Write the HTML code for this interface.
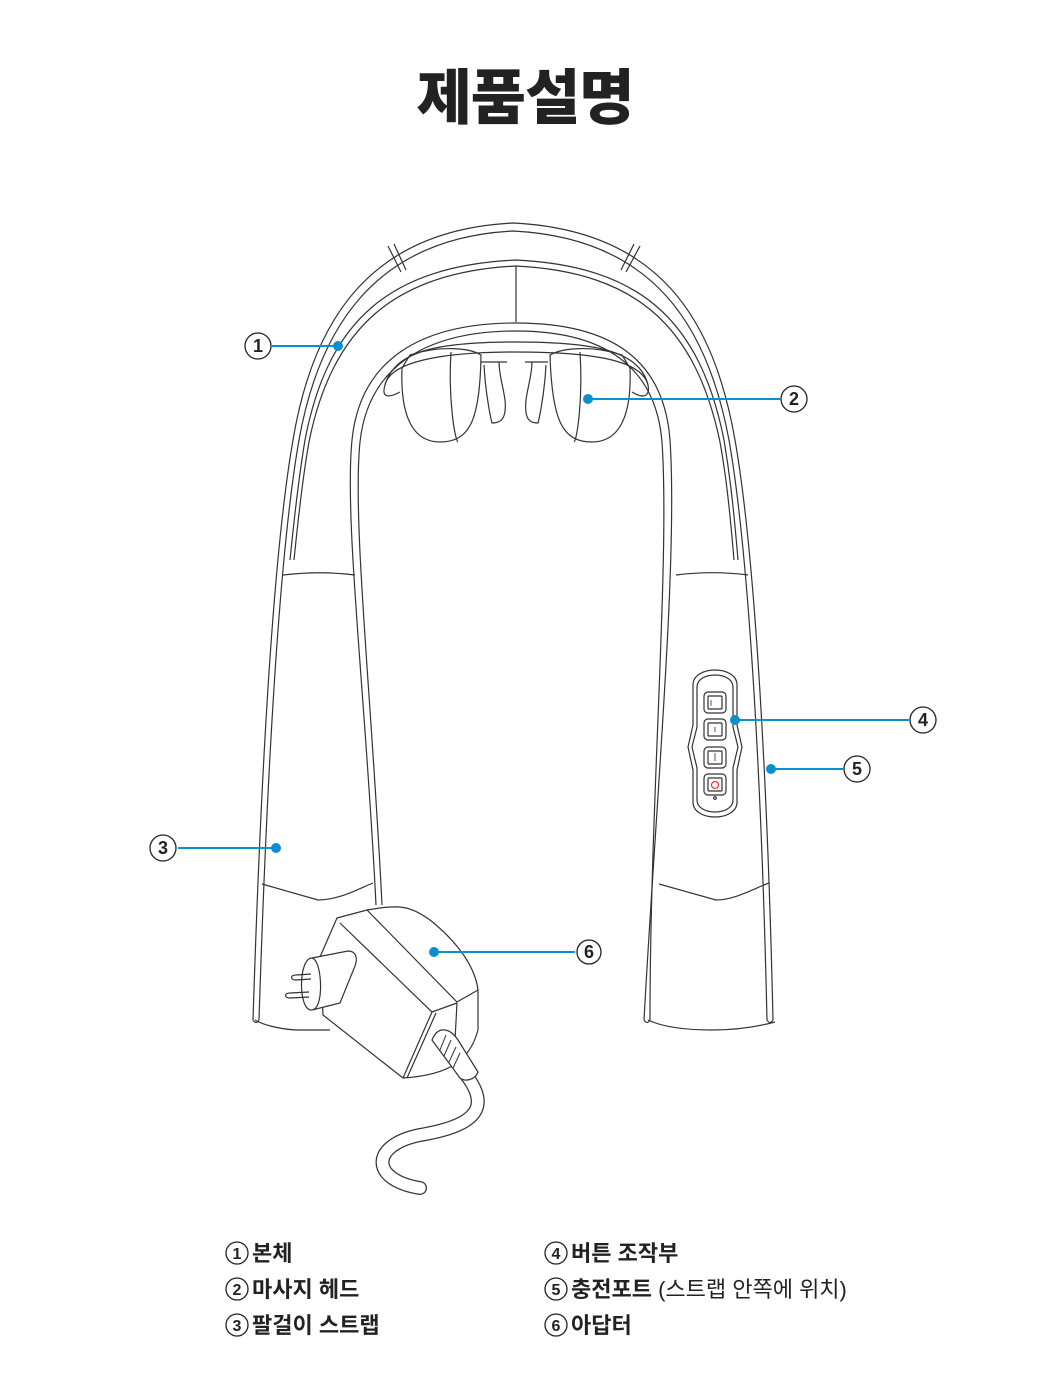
<!DOCTYPE html>
<html><head><meta charset="utf-8"><style>
html,body{margin:0;padding:0;background:#fff;}
svg{display:block;}
.t{font-family:"Liberation Sans","Noto Sans CJK KR",sans-serif;}
</style></head><body>
<svg width="1050" height="1384" viewBox="0 0 1050 1384" xmlns="http://www.w3.org/2000/svg">
<text x="525" y="119" text-anchor="middle" class="t" font-size="60" font-weight="900" fill="#222" letter-spacing="-1">제품설명</text>

<g fill="none" stroke="#333" stroke-width="1.2">
<path d="M253,1020 C260,800 272,560 293,440 C313,320 370,230 513,223 C660,230 714,320 735,440 C756,560 768,800 773,1020"/>
<path d="M259,1020 C266,800 278,560 299,440 C319,328 375,238 513,231 C655,238 708,328 729,440 C750,560 762,800 767,1020"/>
<path d="M290,560 C296,500 300,470 305,440 C328,320 390,266 516,260 C640,266 700,320 724,440 C729,470 733,500 738,560"/>
<path d="M294,560 C300,500 304,470 309,442 C332,328 394,272 516,266 C638,272 696,328 720,442 C725,470 729,500 734,560"/>
<path d="M388,246 L401,272 M394,244 L406,270"/>
<path d="M640,246 L626,272 M634,244 L621,270"/>
<path d="M516,266 L516,322"/>
<path d="M376,905 C366,700 344,520 352,440 C360,360 420,323 516,323 C612,323 664,360 670,440 C678,560 656,800 644,1020"/>
<path d="M382,905 C372,700 352,520 360,442 C368,368 424,331 516,331 C606,331 656,368 662,442 C670,560 650,800 650,1020"/>
<path d="M385,385 C395,350 440,342 516,342 C592,342 640,350 648,385"/>
<path d="M385,385 C390,362 440,352 516,352 C592,352 642,360 648,385"/>
<path d="M402,368 C400,420 415,442 440,442 C470,442 480,420 481,355 C470,348 440,345 410,355 Z"/>
<path d="M451,352 C448,400 455,440 458,442"/>
<path d="M630,368 C632,420 617,442 592,442 C562,442 552,420 550,355 C562,348 592,345 622,355 Z"/>
<path d="M580,352 C583,400 577,440 574,442"/>
<path d="M481,362 L507,362 M484,365 C486,400 492,423 492,423 C500,423 507,420 505,400 C503,385 499,375 499,362"/>
<path d="M548,362 L525,362 M546,365 C544,400 538,423 538,423 C530,423 524,420 526,400 C528,385 532,375 532,362"/>
<path d="M385,385 C382,395 385,400 400,392 M648,385 C650,395 645,400 632,392"/>
<path d="M283,575 C310,572 330,572 355,575"/>
<path d="M262,884 L318,900 C340,900 360,888 373,883"/>
<path d="M676,575 C700,572 725,572 748,575"/>
<path d="M659,884 L716,900 C735,900 755,888 769,883"/>
<path d="M648,1020 C665,1028 690,1030 712,1030 C740,1030 760,1026 775,1022"/>
<path d="M255,1020 C265,1026 285,1030 300,1030 L330,1030"/>
<path d="M253,1020 Q256,1025 259,1020 M773,1020 Q770,1025 767,1020 M644,1020 Q647,1025 650,1020"/>
<path d="M693,685 C693,665 737,665 737,685 L737,725 L742,747 L737,770 L737,802 C737,822 693,822 693,802 L693,770 L688,747 L693,725 Z"/>
<path d="M697,687 C697,671 733,671 733,687 L733,727 L738,747 L733,768 L733,800 C733,816 697,816 697,800 L697,768 L692,747 L697,727 Z"/>
<rect x="704" y="692" width="22" height="21" rx="4"/><rect x="708" y="696" width="14" height="13" rx="1"/>
<rect x="704" y="719" width="22" height="21" rx="4"/><rect x="708" y="723" width="14" height="13" rx="1"/>
<rect x="704" y="747" width="22" height="21" rx="4"/><rect x="708" y="751" width="14" height="13" rx="1"/>
<rect x="704" y="774" width="22" height="21" rx="4"/><rect x="708" y="778" width="14" height="13" rx="1"/>
<circle cx="715" cy="798" r="1.3"/>
<path d="M337,918 L367,910 C400,904 410,906 430,920 C455,940 475,965 478,990 L478,1030 C470,1060 450,1075 403,1078 L323,1015 L320,957 Z" fill="#fff"/>
<path d="M367,910 L457,1002 L478,990 M340,923 L432,1012 L457,1003 M432,1012 L403,1078 M436,1013 L407,1078 M457,1003 L455,1040"/>
<path d="M312,958 L348,951 C356,951 358,958 355,966 L340,1003 L312,1010 C298,1012 298,958 312,958 Z" fill="#fff"/>
<path d="M312,958 C322,960 324,1005 314,1009"/>
<path d="M296,975 L311,974 M296,975 C290,975 290,980 296,980 L311,979 M290,993 L309,992 M290,993 C284,993 284,998 290,998 L309,997"/>
</g>
<path d="M462,1070 C492,1105 480,1125 420,1135 C370,1145 370,1180 420,1188" fill="none" stroke="#333" stroke-width="14" stroke-linecap="round"/>
<path d="M462,1070 C492,1105 480,1125 420,1135 C370,1145 370,1180 420,1188" fill="none" stroke="#fff" stroke-width="11.5" stroke-linecap="round"/>
<path d="M432,1040 C438,1025 450,1028 458,1040 L478,1072 C475,1080 465,1082 460,1078 Z" fill="#fff" stroke="#333" stroke-width="1.2"/>
<path d="M440,1050 L446,1035 M444,1056 L451,1040 M449,1062 L456,1047 M453,1068 L460,1053" stroke="#333" stroke-width="1"/>
<path d="M711,700 v6 M715,727 v5 M715,753 v8" stroke="#555" stroke-width="1"/>
<circle cx="715" cy="785" r="3.5" fill="none" stroke="#e33" stroke-width="1.2"/>

<g stroke="#0a8fd0" stroke-width="2" fill="#0a8fd0">
<line x1="272" y1="346" x2="338" y2="346"/><circle cx="338" cy="346" r="4"/>
<line x1="588" y1="399" x2="780" y2="399"/><circle cx="588" cy="399" r="4"/>
<line x1="735" y1="720" x2="909" y2="720"/><circle cx="735" cy="720" r="4"/>
<line x1="771" y1="769" x2="843" y2="769"/><circle cx="771" cy="769" r="4"/>
<line x1="178" y1="848" x2="276" y2="848"/><circle cx="276" cy="848" r="4"/>
<line x1="434" y1="952" x2="575" y2="952"/><circle cx="434" cy="952" r="4"/>
</g>
<g fill="#fff" stroke="#222" stroke-width="1.3">
<circle cx="258" cy="346" r="13"/><circle cx="794" cy="399" r="13"/><circle cx="923" cy="720" r="13"/>
<circle cx="857" cy="769" r="13"/><circle cx="163" cy="848" r="13"/><circle cx="589" cy="952" r="12"/>
</g>
<g class="t" font-size="18" font-weight="700" fill="#222" text-anchor="middle">
<text x="258" y="352">1</text><text x="794" y="405">2</text><text x="923" y="726">4</text>
<text x="857" y="775">5</text><text x="163" y="854">3</text><text x="589" y="958">6</text>
</g>

<g fill="none" stroke="#222" stroke-width="1.3">
<circle cx="237" cy="1253" r="11"/><circle cx="237" cy="1289" r="11"/><circle cx="237" cy="1325" r="11"/>
<circle cx="556" cy="1253" r="11"/><circle cx="556" cy="1289" r="11"/><circle cx="556" cy="1325" r="11"/>
</g>
<g class="t" font-size="16" font-weight="700" fill="#222" text-anchor="middle">
<text x="237" y="1259">1</text><text x="237" y="1295">2</text><text x="237" y="1331">3</text>
<text x="556" y="1259">4</text><text x="556" y="1295">5</text><text x="556" y="1331">6</text>
</g>
<g class="t" font-size="22" font-weight="700" fill="#222">
<text x="252" y="1261">본체</text>
<text x="252" y="1297">마사지 헤드</text>
<text x="252" y="1333">팔걸이 스트랩</text>
<text x="571" y="1261">버튼 조작부</text>
<text x="571" y="1297">충전포트 <tspan font-weight="400">(스트랩 안쪽에 위치)</tspan></text>
<text x="571" y="1333">아답터</text>
</g>
</svg>
</body></html>
